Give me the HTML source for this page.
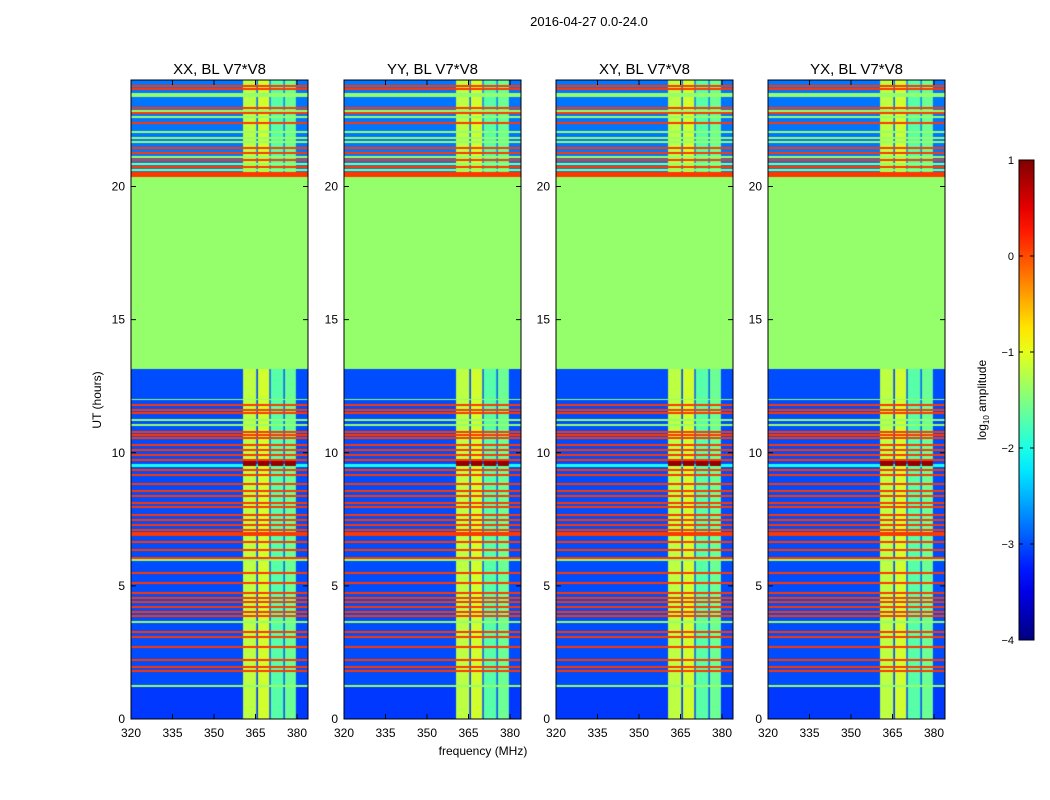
<!DOCTYPE html>
<html><head><meta charset="utf-8">
<style>
body{margin:0;background:#fff;font-family:"Liberation Sans",sans-serif;}
#wrap{position:relative;width:1050px;height:800px;overflow:hidden;background:#fff}
canvas{position:absolute}
svg{position:absolute;left:0;top:0}
</style></head>
<body>
<div id="wrap">
<svg id="axes" width="1050" height="800"></svg>
</div>
<script>
// ---- data ----
const panelTitles = ["XX, BL V7*V8","YY, BL V7*V8","XY, BL V7*V8","YX, BL V7*V8"];
const xTicks = [320,335,350,365,380];
const yTicks = [0,5,10,15,20];
const cbTicks = [1,0,-1,-2,-3,-4];
// background bands: [startHour, endHour, log amplitude]
const bgBands = [[0,1.24,-3.1],[1.24,13.15,-3.0],[13.15,20.36,-1.4],[20.36,24,-2.8]];
// horizontal lines (hours)
const orangeLines = [23.77,23.66,22.95,22.76,22.38,21.45,21.26,20.99,20.73,11.79,11.61,11.49,10.78,10.67,10.55,10.29,10.10,9.92,9.73,9.35,9.16,8.83,8.56,8.38,8.11,7.96,7.66,7.47,7.29,7.10,6.91,6.65,6.35,6.05,5.48,5.11,4.73,4.54,4.39,4.21,4.02,3.87,3.27,3.08,2.70,2.22,1.95,1.80];
const greenLines = [23.45,22.84,22.61,22.05,21.82,21.67,21.11,20.85,20.62,12.0,11.23,11.04,5.97,3.64,1.24];
const thickBands = [[20.36,20.55,0.1],[6.88,7.02,0.1],[9.45,9.58,-2.0],[23.35,23.5,-1.4],[22.0,22.1,-1.4]];
// signal columns in frequency (MHz)
const sigColumns = [[360.5,365.3,-1.2],[365.9,370.0,-1.1],[370.5,375.1,-1.7],[375.6,379.6,-1.6]];
const hotRows = [[9.5,9.68,0.9]];
// ---- axes ----
const panelsX=[131,344,556,768], pTop=80, pW=177, pH=639;
const fMin=320, fMax=320+177/41.5*15, hMin=0, hMax=24;
const vMin=-4, vMax=1;
function xs(f,i){return panelsX[i]+(f-fMin)/(fMax-fMin)*pW;}
function ys(h){return pTop+pH-(h-hMin)/(hMax-hMin)*pH;}
function jet(v){let t=(v-vMin)/(vMax-vMin);t=Math.max(0,Math.min(1,t));
 const c=x=>Math.max(0,Math.min(1,x));
 const r=c(1.5-Math.abs(4*t-3)),g=c(1.5-Math.abs(4*t-2)),b=c(1.5-Math.abs(4*t-1));
 return `rgb(${Math.round(r*255)},${Math.round(g*255)},${Math.round(b*255)})`;}
const wrap=document.getElementById('wrap');
const svg=document.getElementById('axes');
const NS='http://www.w3.org/2000/svg';
function add(tag,attrs,txt){const e=document.createElementNS(NS,tag);for(const k in attrs)e.setAttribute(k,attrs[k]);if(txt!=null)e.textContent=txt;svg.appendChild(e);return e;}
function valAt(h){
 let v=-3.0;for(const b of bgBands) if(h>=b[0]&&h<b[1]) v=b[2];
 let line=null;
 for(const l of orangeLines) if(Math.abs(h-l)<0.03) line=0.1;
 for(const l of greenLines) if(Math.abs(h-l)<0.03) line=-1.4;
 for(const b of thickBands) if(h>=b[0]&&h<b[1]) line=b[2];
 return {v,line};
}
for(let i=0;i<4;i++){
 const cv=document.createElement('canvas');cv.width=pW;cv.height=pH;
 cv.style.left=panelsX[i]+'px';cv.style.top=pTop+'px';
 
 
 wrap.insertBefore(cv,svg);
 const ctx=cv.getContext('2d');
 for(let py=0;py<pH;py++){
  const h=hMax-(py+0.5)/pH*(hMax-hMin);
  const r=valAt(h);
  const base=r.line!=null?r.line:r.v;
  ctx.fillStyle=jet(base);ctx.fillRect(0,py,pW,1);
  const isFlag=(h>=13.15&&h<20.36);
  if(isFlag) continue;
  for(const c of sigColumns){
   let v=c[2];
   if(r.line!=null && r.line!==-2.0) v=r.line;
   for(const hr of hotRows) if(h>=hr[0]&&h<hr[1]) v=hr[2];
   const x0=xs(c[0],i)-panelsX[i], x1=xs(c[1],i)-panelsX[i];
   ctx.fillStyle=jet(v);ctx.fillRect(x0,py,x1-x0,1);
  }
 }
 add('rect',{x:panelsX[i],y:pTop,width:pW,height:pH,fill:'none',stroke:'#000','stroke-width':1,});
 add('text',{x:panelsX[i]+pW/2,y:74,'text-anchor':'middle','font-size':15,},panelTitles[i]);
 for(const t of xTicks){const x=xs(t,i);
  add('line',{x1:x,x2:x,y1:pTop+pH,y2:pTop+pH-5,stroke:'#000'});
  add('line',{x1:x,x2:x,y1:pTop,y2:pTop+5,stroke:'#000'});
  add('text',{x:x,y:737,'text-anchor':'middle','font-size':12,},t);}
 for(const t of yTicks){const y=ys(t);
  add('line',{x1:panelsX[i],x2:panelsX[i]+5,y1:y,y2:y,stroke:'#000'});
  add('line',{x1:panelsX[i]+pW,x2:panelsX[i]+pW-5,y1:y,y2:y,stroke:'#000'});
  add('text',{x:panelsX[i]-6,y:y+4,'text-anchor':'end','font-size':12,},t);}
}
add('text',{x:589,y:26,'text-anchor':'middle','font-size':13,},'2016-04-27 0.0-24.0');
add('text',{x:483,y:755,'text-anchor':'middle','font-size':12,},'frequency (MHz)');
add('text',{x:0,y:0,'text-anchor':'middle','font-size':12,transform:'translate(101,400) rotate(-90)',},'UT (hours)');
const cbX=1019,cbW=15,cbT=160,cbH=480;
const g=add('defs',{});
const lg=document.createElementNS(NS,'linearGradient');lg.setAttribute('id','jetg');lg.setAttribute('x1',0);lg.setAttribute('y1',1);lg.setAttribute('x2',0);lg.setAttribute('y2',0);
for(let k=0;k<=20;k++){const s=document.createElementNS(NS,'stop');s.setAttribute('offset',k/20);s.setAttribute('stop-color',jet(vMin+k/20*(vMax-vMin)));lg.appendChild(s);}
g.appendChild(lg);
add('rect',{x:cbX,y:cbT,width:cbW,height:cbH,fill:'url(#jetg)',stroke:'#000',});
for(const t of cbTicks){const y=cbT+(vMax-t)/(vMax-vMin)*cbH;
 add('line',{x1:cbX,x2:cbX+4,y1:y,y2:y,stroke:'#000'});
 add('line',{x1:cbX+cbW,x2:cbX+cbW-4,y1:y,y2:y,stroke:'#000'});
 add('text',{x:cbX-5,y:y+4,'text-anchor':'end','font-size':11,},t<0?'\u2212'+(-t):t);}
const lab=add('text',{x:0,y:0,'text-anchor':'middle','font-size':12,transform:'translate(986,400) rotate(-90)',},'log');
const sub=document.createElementNS(NS,'tspan');sub.setAttribute('font-size',8);sub.setAttribute('dy',3);sub.textContent='10';lab.appendChild(sub);
const rest=document.createElementNS(NS,'tspan');rest.setAttribute('dy',-3);rest.textContent=' amplitude';lab.appendChild(rest);
</script>
</body></html>
